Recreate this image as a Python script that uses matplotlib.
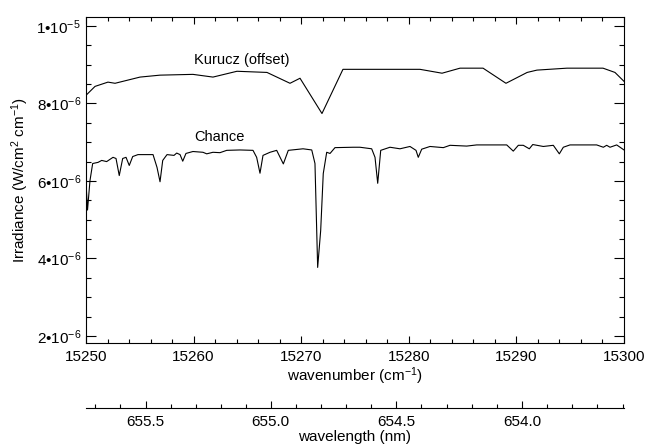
import numpy as np
import matplotlib
matplotlib.use("Agg")
import matplotlib.pyplot as plt
from matplotlib.ticker import MultipleLocator, FixedLocator, FuncFormatter, FormatStrFormatter

plt.rcParams['font.family'] = ['Liberation Sans', 'DejaVu Sans']
plt.rcParams['mathtext.fontset'] = 'custom'
plt.rcParams['mathtext.rm'] = 'Liberation Sans'
plt.rcParams['mathtext.it'] = 'Liberation Sans:italic'
plt.rcParams['mathtext.default'] = 'regular'

# Kurucz solar spectrum (offset)
kurucz_wn = [15250.0, 15250.84, 15252.04, 15252.70, 15255.02, 15256.88, 15259.94,
             15261.80, 15264.03, 15266.82, 15268.96, 15269.89, 15271.93, 15273.88,
             15275.46, 15281.04, 15283.09, 15284.76, 15286.90, 15289.03, 15291.0,
             15291.91, 15294.70, 15298.05, 15299.16, 15300.0]
kurucz_irr = [8.21, 8.44, 8.55, 8.52, 8.68, 8.73, 8.75, 8.68, 8.83, 8.80, 8.52, 8.65,
              7.74, 8.88, 8.88, 8.88, 8.78, 8.91, 8.91, 8.52, 8.80, 8.86, 8.91, 8.91,
              8.80, 8.57]

# Chance solar spectrum
chance_wn = [15250.0, 15250.14, 15250.37, 15250.62, 15251.12, 15251.46, 15251.92,
             15252.51, 15252.79, 15253.09, 15253.41, 15253.72, 15254.02, 15254.34,
             15254.83, 15256.23, 15256.60, 15256.88, 15257.13, 15257.53, 15258.18,
             15258.43, 15258.74, 15258.99, 15259.29, 15259.94, 15260.87, 15261.22,
             15261.80, 15262.45, 15263.08, 15264.31, 15265.52, 15265.86, 15266.17,
             15266.45, 15267.10, 15267.72, 15268.34, 15268.80, 15270.17, 15270.98,
             15271.28, 15271.53, 15271.81, 15272.05, 15272.37, 15272.68, 15273.14,
             15274.84, 15275.46, 15276.55, 15276.86, 15277.11, 15277.39, 15278.25,
             15279.18, 15280.11, 15280.67, 15280.88, 15281.20, 15281.97, 15283.21,
             15283.83, 15285.38, 15286.31, 15289.10, 15289.71, 15290.18, 15290.64,
             15291.20, 15291.52, 15292.50, 15293.43, 15293.99, 15294.36, 15294.98,
             15297.46, 15298.08, 15298.39, 15298.70, 15299.32, 15300.0]
chance_irr = [5.95, 5.25, 6.01, 6.45, 6.48, 6.53, 6.50, 6.61, 6.58, 6.14, 6.58, 6.61,
              6.40, 6.63, 6.68, 6.68, 6.35, 5.98, 6.53, 6.68, 6.66, 6.72, 6.68, 6.51,
              6.71, 6.76, 6.74, 6.70, 6.74, 6.73, 6.79, 6.80, 6.79, 6.61, 6.20, 6.66,
              6.74, 6.79, 6.44, 6.79, 6.83, 6.80, 6.45, 3.77, 4.72, 6.19, 6.74, 6.71,
              6.86, 6.87, 6.87, 6.83, 6.61, 5.94, 6.79, 6.87, 6.83, 6.89, 6.79, 6.61,
              6.82, 6.89, 6.86, 6.92, 6.90, 6.93, 6.93, 6.77, 6.92, 6.92, 6.83, 6.94,
              6.89, 6.92, 6.70, 6.87, 6.93, 6.93, 6.87, 6.92, 6.87, 6.93, 6.80]

wn_ticks = [15250, 15260, 15270, 15280, 15290, 15300]
nm_ticks = [655.5, 655.0, 654.5, 654.0]
irr_ticks = [2e-6, 4e-6, 6e-6, 8e-6, 1e-5]

fig = plt.figure(figsize=(6.46, 4.47), dpi=100)
ax = fig.add_axes([86/646, 1 - 343/447, 538/646, 326/447])

ax.plot(kurucz_wn, np.array(kurucz_irr) * 1e-6, color='black', lw=0.8)
ax.plot(chance_wn, np.array(chance_irr) * 1e-6, color='black', lw=0.8)

ax.text(15264.5, 9.13e-6, 'Kurucz (offset)', ha='center', va='center', fontsize=10.5)
ax.text(15262.4, 7.13e-6, 'Chance', ha='center', va='center', fontsize=10.5)

ax.set_xlim(15250, 15300)
ax.set_ylim(1.82e-6, 1.023e-5)
ax.set_xticks(wn_ticks)
ax.xaxis.set_minor_locator(MultipleLocator(2))
ax.set_yticks(irr_ticks)
ax.yaxis.set_minor_locator(MultipleLocator(0.5e-6))


def sci_fmt(v, pos):
    e = int(np.floor(np.log10(v) + 1e-9))
    m = int(round(v / 10**e))
    return f"{m}•10$^{{{e}}}$"


ax.yaxis.set_major_formatter(FuncFormatter(sci_fmt))
ax.tick_params(axis='both', which='both', direction='in', top=True, right=True,
               labelsize=11, width=0.8)
ax.tick_params(axis='y', which='major', length=7)
ax.tick_params(axis='y', which='minor', length=3.5)
ax.tick_params(axis='x', which='major', length=5, pad=5)
ax.tick_params(axis='x', which='minor', length=3)
for s in ax.spines.values():
    s.set_linewidth(0.8)

ax.set_xlabel('wavenumber (cm$^{-1}$)', fontsize=11, labelpad=1)
ax.set_ylabel('Irradiance (W/cm$^{2}$ cm$^{-1}$)', fontsize=11, labelpad=4)


def to_nm(x):
    x = np.asarray(x, dtype=float)
    with np.errstate(divide='ignore'):
        return 1e7 / x


sec = ax.secondary_xaxis(-65/326, functions=(to_nm, to_nm))
sec.xaxis.set_major_locator(FixedLocator(nm_ticks))
sec.xaxis.set_minor_locator(MultipleLocator(0.1))
sec.xaxis.set_major_formatter(FormatStrFormatter('%.1f'))
sec.tick_params(axis='x', which='both', direction='in', labelsize=11, width=0.8)
sec.tick_params(axis='x', which='major', length=5, pad=5)
sec.tick_params(axis='x', which='minor', length=3)
sec.spines['bottom'].set_linewidth(0.8)
sec.set_xlabel('wavelength (nm)', fontsize=11, labelpad=1)

fig.savefig('out.png', dpi=100)
